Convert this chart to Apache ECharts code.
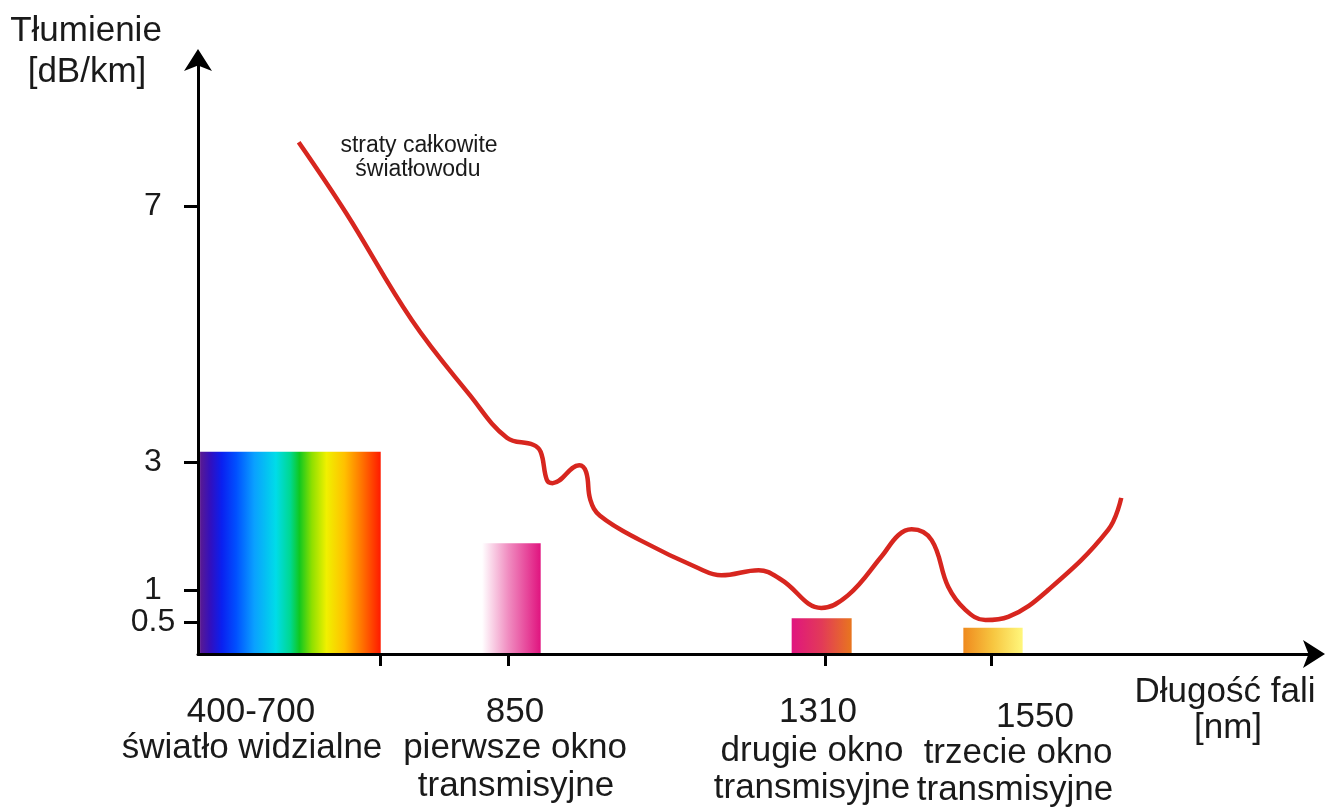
<!DOCTYPE html>
<html>
<head>
<meta charset="utf-8">
<title>Tłumienie światłowodu</title>
<script src="https://cdn.jsdelivr.net/npm/echarts@6/dist/echarts.min.js"></script>
<style>
  html, body { margin: 0; padding: 0; background: #fff; }
  #chart { width: 1326px; height: 812px; }
</style>
</head>
<body>
<div id="chart"></div>
<script>
// ── dane ────────────────────────────────────────────────────
// krzywa strat całkowitych: długość fali [nm] i tłumienie [dB/km]
const curveNm = [546, 615, 710, 794, 848, 886, 897, 906, 914, 953, 963, 969, 983, 1041, 1126, 1159, 1213, 1246, 1304, 1343, 1391, 1416, 1435, 1464, 1488, 1513, 1542, 1575, 1633, 1720, 1739]
const curveDb = [8.0, 6.89, 5.22, 4.05, 3.38, 3.27, 3.16, 2.72, 2.67, 2.95, 2.84, 2.41, 2.16, 1.78, 1.34, 1.23, 1.31, 1.16, 0.72, 0.92, 1.52, 1.86, 1.95, 1.78, 1.05, 0.69, 0.53, 0.58, 1.00, 1.94, 2.44]

// prostokąty: widmo widzialne i trzy okna transmisyjne
const bandStart  = [403, 812, 1261, 1510]
const bandEnd    = [665, 897, 1348, 1596]
const bandHeight = [3.16, 1.73, 0.56, 0.41]

// podziałki osi
const xTicks = [665, 850, 1310, 1550]
const yTicks = [0.5, 1, 3, 7]

// ── kolory prostokątów ──────────────────────────────────────
const BAND_STOPS = [
  [[0, '#5a1a90'], [0.06, '#3010c0'], [0.12, '#0a20f0'], [0.2, '#0050ff'], [0.3, '#0aa0ff'],
   [0.42, '#00dce8'], [0.5, '#00d890'], [0.55, '#10c820'], [0.62, '#90e000'], [0.7, '#f0f000'],
   [0.8, '#ffc000'], [0.9, '#ff7000'], [1, '#ff1a00']],
  [[0, '#ffffff'], [0.45, '#f08cc0'], [1, '#e0147f']],
  [[0, '#e0157f'], [0.5, '#e23a58'], [1, '#e8761e']],
  [[0, '#ef8a1e'], [0.5, '#f7c640'], [1, '#fff77c']],
]

const FONT = '"Liberation Sans", Arial, sans-serif'
const INK = '#1a1a1a'

function txt(x, y, text, size) {
  return {
    type: 'text', x, y, z: 10,
    style: { text, font: `${size}px ${FONT}`, fill: INK, align: 'center', verticalAlign: 'middle' },
  }
}

const chart = echarts.init(document.getElementById('chart'), null, { renderer: 'canvas' })

const axisLine = {
  lineStyle: { color: '#000', width: 3 },
  symbol: ['none', 'arrow'],
  symbolSize: [21, 22],
  symbolOffset: [0, 10],
}

chart.setOption({
  animation: false,
  backgroundColor: '#fff',
  grid: { left: 198, top: 59, width: 1117, height: 595 },
  xAxis: {
    type: 'value', min: 400, max: 2020, z: 5,
    axisLine,
    axisTick: { show: true, customValues: xTicks, length: 12, lineStyle: { color: '#000', width: 3 } },
    axisLabel: { show: false },
    splitLine: { show: false },
  },
  yAxis: {
    type: 'value', min: 0, max: 9.3, z: 5,
    axisLine,
    axisTick: { show: true, customValues: yTicks, length: 14, lineStyle: { color: '#000', width: 3 } },
    axisLabel: {
      customValues: yTicks, margin: 45, align: 'center', color: INK, fontSize: 32, fontFamily: FONT,
      formatter: (v) => String(v),
    },
    splitLine: { show: false },
  },
  series: [
    {
      type: 'custom',
      z: 1,
      encode: { x: [0, 1], y: 2 },
      data: bandStart.map((s, i) => [s, bandEnd[i], bandHeight[i]]),
      renderItem(params, api) {
        const p0 = api.coord([api.value(0), api.value(2)])
        const p1 = api.coord([api.value(1), 0])
        const stops = BAND_STOPS[params.dataIndex].map(([offset, color]) => ({ offset, color }))
        return {
          type: 'rect',
          shape: { x: p0[0], y: p0[1], width: p1[0] - p0[0], height: p1[1] - p0[1] },
          style: { fill: new echarts.graphic.LinearGradient(0, 0, 1, 0, stops) },
        }
      },
    },
    {
      type: 'line',
      z: 3,
      data: curveNm.map((x, i) => [x, curveDb[i]]),
      smooth: 0.4,
      symbol: 'none',
      lineStyle: { color: '#d7261f', width: 4.5 },
    },
  ],
  graphic: [
    txt(86, 31, 'Tłumienie', 35),
    txt(87, 72, '[dB/km]', 35),
    txt(419, 146, 'straty całkowite', 23),
    txt(418, 170, 'światłowodu', 23),
    txt(251, 712, '400-700', 35),
    txt(252, 748, 'światło widzialne', 35),
    txt(515, 712, '850', 35),
    txt(515, 748, 'pierwsze okno', 35),
    txt(516, 786, 'transmisyjne', 35),
    txt(818, 712, '1310', 35),
    txt(812, 751, 'drugie okno', 35),
    txt(812, 788, 'transmisyjne', 35),
    txt(1035, 717, '1550', 35),
    txt(1018, 753, 'trzecie okno', 35),
    txt(1015, 790, 'transmisyjne', 35),
    txt(1225, 692, 'Długość fali', 35),
    txt(1228, 728, '[nm]', 35),
  ],
})
</script>
</body>
</html>
